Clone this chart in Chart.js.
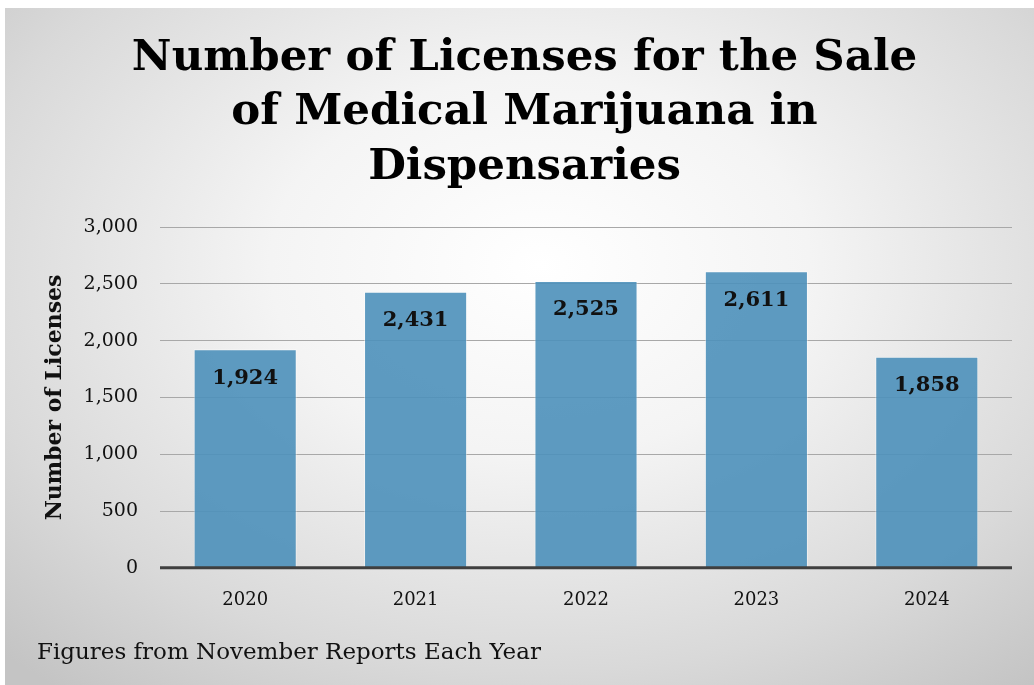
<!DOCTYPE html>
<html>
<head>
<meta charset="utf-8">
<script src="https://cdn.jsdelivr.net/npm/chart.js@4.4.1/dist/chart.umd.min.js"></script>
<style>
  html, body { margin: 0; padding: 0; background: #fff; overflow: hidden; }
  #frame {
    position: absolute; left: 5px; top: 8px; width: 1029px; height: 677px;
    background: radial-gradient(ellipse 75% 80% at 52% 38%, #ffffff 0%, #f4f4f4 35%, #d9d9d9 75%, #c4c4c4 100%);
  }
  #chart { display: block; }
</style>
</head>
<body>
<div id="frame"><canvas id="chart" width="1029" height="677"></canvas></div>
<script>
// licence counts taken from the November report of each year
const years = ['2020', '2021', '2022', '2023', '2024'];
const licenses = [1924, 2431, 2525, 2611, 1858];
const yTicks = [0, 500, 1000, 1500, 2000, 2500, 3000];

const titleLines = ['Number of Licenses for the Sale', 'of Medical Marijuana in', 'Dispensaries'];
const footnote = 'Figures from November Reports Each Year';

const serif = "'DejaVu Serif', 'Liberation Serif', serif";

// value labels drawn inside the top of each bar
const barLabels = {
    id: 'barLabels',
    afterDatasetsDraw(chart) {
        const ctx = chart.ctx;
        const meta = chart.getDatasetMeta(0);
        ctx.save();
        ctx.font = 'bold 21px ' + serif;
        ctx.fillStyle = '#111';
        ctx.textAlign = 'center';
        ctx.textBaseline = 'middle';
        meta.data.forEach((bar, i) => {
            ctx.fillText(licenses[i].toLocaleString('en-US'), bar.x, bar.y + 29);
        });
        ctx.restore();
    }
};

// heavy baseline along zero
const baseLine = {
    id: 'baseLine',
    afterDatasetsDraw(chart) {
        const { ctx, chartArea } = chart;
        const y = chart.scales.y.getPixelForValue(0);
        ctx.save();
        ctx.strokeStyle = '#3f3f3f';
        ctx.lineWidth = 3;
        ctx.beginPath();
        ctx.moveTo(chartArea.left, y);
        ctx.lineTo(chartArea.right, y);
        ctx.stroke();
        ctx.restore();
    }
};

new Chart(document.getElementById('chart'), {
    type: 'bar',
    data: {
        labels: years,
        datasets: [{
            data: licenses,
            backgroundColor: 'rgba(76, 144, 186, 0.9)',
            borderColor: 'rgba(255, 255, 255, 0.45)',
            borderWidth: 1,
            categoryPercentage: 0.605,
            barPercentage: 1
        }]
    },
    options: {
        responsive: false,
        animation: false,
        layout: { padding: { left: 32, right: 22, top: 0, bottom: 0 } },
        scales: {
            x: {
                grid: { display: false },
                border: { display: false },
                ticks: { color: '#111', font: { family: serif, size: 18 }, padding: 14 }
            },
            y: {
                min: 0,
                max: 3000,
                afterBuildTicks: (axis) => { axis.ticks = yTicks.map(v => ({ value: v })); },
                afterFit: (axis) => { axis.width = 123; },
                grid: { color: '#a8a8a8', lineWidth: 1, drawTicks: false },
                border: { display: false },
                ticks: {
                    color: '#111',
                    font: { family: serif, size: 19 },
                    padding: 22,
                    callback: (v) => v.toLocaleString('en-US')
                },
                title: {
                    display: true,
                    text: 'Number of Licenses',
                    color: '#111',
                    font: { family: serif, size: 22, weight: 'bold' },
                    padding: { top: 5, bottom: 0 }
                }
            }
        },
        plugins: {
            legend: { display: false },
            tooltip: { enabled: false },
            title: {
                display: true,
                text: titleLines,
                color: '#000',
                font: { family: serif, size: 43.5, weight: 'bold', lineHeight: 1.253 },
                padding: { top: 23, bottom: 32.5 }
            },
            subtitle: {
                display: true,
                position: 'bottom',
                align: 'start',
                text: footnote,
                color: '#111',
                font: { family: serif, size: 23 },
                padding: { top: 14, bottom: 18 }
            }
        }
    },
    plugins: [barLabels, baseLine]
});
</script>
</body>
</html>
